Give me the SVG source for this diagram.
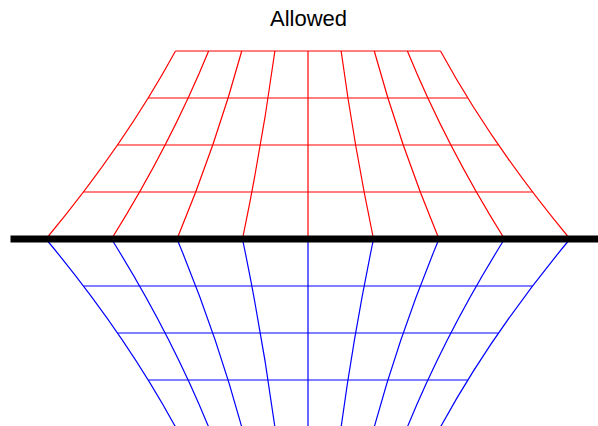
<svg xmlns="http://www.w3.org/2000/svg" width="598" height="426" viewBox="0 0 598 426">
<style>
.red{fill:none;stroke:#ff0000;stroke-width:1.2}
.blue{fill:none;stroke:#0000ff;stroke-width:1.2}
.title{font-family:"Liberation Sans",Arial,sans-serif;font-size:22px;fill:#000}
</style>
<rect width="598" height="426" fill="#fff"/>
<text class="title" x="308.5" y="26" text-anchor="middle">Allowed</text>
<g id="red-grid" class="red">
<path d="M175.5,51H440.5M148.2,98H467.8M117.5,145H498.5M83.4,192H532.6"/>
<path d="M46,239Q124.25,145 175.5,51"/>
<path d="M111.5,239Q170.19,145 208.63,51"/>
<path d="M177,239Q216.13,145 241.75,51"/>
<path d="M242.5,239Q262.06,145 274.88,51"/>
<path d="M308,239V51"/>
<path d="M373.5,239Q353.94,145 341.13,51"/>
<path d="M439,239Q399.88,145 374.25,51"/>
<path d="M504.5,239Q445.81,145 407.38,51"/>
<path d="M570,239Q491.75,145 440.5,51"/>
</g>
<g id="blue-grid" class="blue">
<path d="M83.4,286H532.6M117.5,333H498.5M148.2,380H467.8"/>
<path d="M46,239Q124.25,333 175.5,427"/>
<path d="M111.5,239Q170.19,333 208.63,427"/>
<path d="M177,239Q216.13,333 241.75,427"/>
<path d="M242.5,239Q262.06,333 274.88,427"/>
<path d="M308,239V427"/>
<path d="M373.5,239Q353.94,333 341.13,427"/>
<path d="M439,239Q399.88,333 374.25,427"/>
<path d="M504.5,239Q445.81,333 407.38,427"/>
<path d="M570,239Q491.75,333 440.5,427"/>
</g>
<g id="boundary">
<line x1="10.5" y1="239" x2="598" y2="239" stroke="#000" stroke-width="7"/>
</g>
</svg>
